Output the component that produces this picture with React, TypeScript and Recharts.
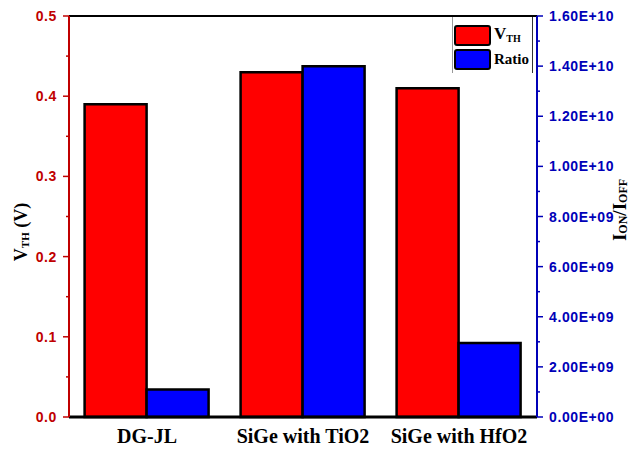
import { BarChart, Bar, XAxis, YAxis, ReferenceLine, Legend } from "recharts";

const categories = ["DG-JL", "SiGe with TiO2", "SiGe with HfO2"];
const vthValues = [0.39, 0.43, 0.41];
const ratioValues = [1.1e9, 1.4e10, 2.95e9];
const leftTicks = [0, 0.05, 0.1, 0.15, 0.2, 0.25, 0.3, 0.35, 0.4, 0.45, 0.5];
const rightTicks = [
  0, 1e9, 2e9, 3e9, 4e9, 5e9, 6e9, 7e9, 8e9, 9e9, 1e10, 1.1e10, 1.2e10, 1.3e10, 1.4e10, 1.5e10, 1.6e10,
];

const data = categories.map((name, i) => ({ name, vth: vthValues[i], ratio: ratioValues[i] }));

const RED = "#ff0000";
const BLUE = "#0000ff";
const RED_AXIS = "#c00000";
const BLUE_AXIS = "#0000b8";
const SANS = "'Liberation Sans', Arial, sans-serif";
const SERIF = "'Liberation Serif', 'Times New Roman', serif";

const sci = (v: number) => {
  const [m, e] = v.toExponential(2).split("e");
  const sign = e[0] === "-" ? "-" : "+";
  const digits = e.replace(/[+-]/, "").padStart(2, "0");
  return `${m}E${sign}${digits}`;
};

const LeftTick = (props: any) => {
  const { x, y, payload, index } = props;
  const major = index % 2 === 0;
  const axisX = x + 12;
  return (
    <g>
      <line x1={axisX - (major ? 6 : 3)} x2={axisX} y1={y} y2={y} stroke={RED_AXIS} strokeWidth={1.5} />
      {major && (
        <text x={x} y={y} dy="0.36em" textAnchor="end" fill={RED_AXIS} fontFamily={SANS} fontWeight="bold" fontSize={14} letterSpacing={0.6}>
          {payload.value.toFixed(1)}
        </text>
      )}
    </g>
  );
};

const RightTick = (props: any) => {
  const { x, y, payload, index } = props;
  const major = index % 2 === 0;
  const axisX = x - 12;
  return (
    <g>
      <line x1={axisX} x2={axisX + (major ? 6 : 3)} y1={y} y2={y} stroke={BLUE_AXIS} strokeWidth={1.5} />
      {major && (
        <text x={x} y={y} dy="0.36em" textAnchor="start" fill={BLUE_AXIS} fontFamily={SANS} fontWeight="bold" fontSize={14} letterSpacing={0.6}>
          {sci(payload.value)}
        </text>
      )}
    </g>
  );
};

const LegendBox = () => (
  <div
    style={{
      borderLeft: "1px solid #999",
      borderRight: "1px solid #333",
      padding: "7px 2px 0 1px",
      width: 81,
      height: 56,
      boxSizing: "border-box",
      fontFamily: SERIF,
      fontWeight: "bold",
      color: "#000",
      lineHeight: "18px",
    }}
  >
    {[
      {
        color: RED,
        label: (
          <span style={{ fontSize: 17 }}>
            V<span style={{ fontSize: 10, position: "relative", top: 3 }}>TH</span>
          </span>
        ),
      },
      { color: BLUE, label: <span style={{ fontSize: 15 }}>Ratio</span> },
    ].map((it, i) => (
      <div key={i} style={{ display: "flex", alignItems: "center", height: 22, marginBottom: 2 }}>
        <div
          style={{
            width: 33,
            height: 17,
            background: it.color,
            border: "2.5px solid #000",
            borderRadius: 3,
            marginRight: 3,
            flexShrink: 0,
          }}
        />
        {it.label}
      </div>
    ))}
  </div>
);

export default function App() {
  return (
    <div style={{ position: "absolute", left: 0, top: 0, background: "#fff" }}>
      <BarChart
        width={630}
        height={451}
        data={data}
        margin={{ top: 16, right: 0, bottom: 4, left: 0 }}
        barCategoryGap="10%"
        barGap={0}
      >
        <XAxis
          dataKey="name"
          height={30}
          tickLine={false}
          tickSize={6}
          tickMargin={6}
          axisLine={{ stroke: "#000", strokeWidth: 3 }}
          tick={{ fill: "#000", fontFamily: SERIF, fontWeight: "bold", fontSize: 20 }}
        />
        <YAxis
          yAxisId="left"
          orientation="left"
          width={69}
          domain={[0, 0.5]}
          ticks={leftTicks}
          interval={0}
          tickLine={false}
          tickSize={6}
          tickMargin={6}
          axisLine={{ stroke: RED_AXIS, strokeWidth: 2 }}
          tick={<LeftTick />}
        />
        <YAxis
          yAxisId="right"
          orientation="right"
          width={93}
          domain={[0, 1.6e10]}
          ticks={rightTicks}
          interval={0}
          tickLine={false}
          tickSize={6}
          tickMargin={6}
          axisLine={{ stroke: BLUE_AXIS, strokeWidth: 2 }}
          tick={<RightTick />}
        />
        <ReferenceLine yAxisId="left" y={0.5} stroke="#000" strokeWidth={2} ifOverflow="extendDomain" />
        <Legend
          verticalAlign="middle"
          align="center"
          layout="vertical"
          content={<LegendBox />}
          wrapperStyle={{ position: "absolute", top: 17, left: 452, width: 81 }}
        />
        <Bar yAxisId="left" dataKey="vth" name="VTH" fill={RED} stroke="#000" strokeWidth={2.5} isAnimationActive={false} />
        <Bar yAxisId="right" dataKey="ratio" name="Ratio" fill={BLUE} stroke="#000" strokeWidth={2.5} isAnimationActive={false} />
        <text
          transform="translate(21 232) rotate(-90)"
          textAnchor="middle"
          dominantBaseline="central"
          fontFamily={SERIF}
          fontWeight="bold"
          fontSize={18}
          fill="#000"
        >
          V<tspan fontSize={11} dy={4}>TH</tspan>
          <tspan dy={-4}> (V)</tspan>
        </text>
        <text
          transform="translate(619 210) rotate(-90)"
          textAnchor="middle"
          dominantBaseline="central"
          fontFamily={SERIF}
          fontWeight="bold"
          fontSize={19}
          fill="#000"
        >
          I<tspan fontSize={12} dy={4}>ON</tspan>
          <tspan dy={-4}>/I</tspan>
          <tspan fontSize={12} dy={4}>OFF</tspan>
        </text>
      </BarChart>
    </div>
  );
}
